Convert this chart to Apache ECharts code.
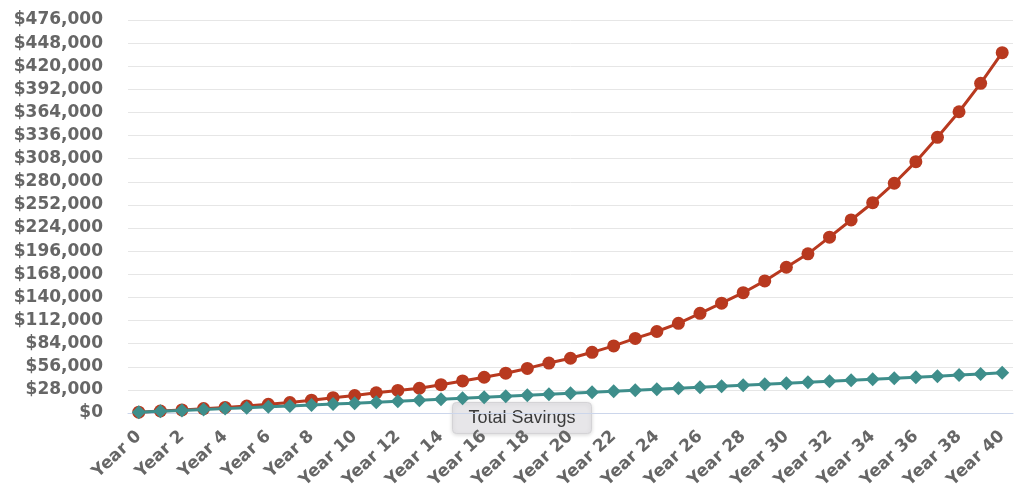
<!DOCTYPE html>
<html>
<head>
<meta charset="utf-8">
<script src="https://cdn.jsdelivr.net/npm/echarts@6/dist/echarts.min.js"></script>
<style>
html,body{margin:0;padding:0;background:#fff;}
#chart{width:1024px;height:500px;}
</style>
</head>
<body>
<div id="chart"></div>
<script>
const categories = [];
for (let i = 0; i <= 40; i++) categories.push('Year ' + i);

const compoundValues = [1000, 2400, 3700, 5300, 6700, 8500, 10600, 12700, 15500, 18600,
  21200, 24500, 27300, 30000, 34300, 38800, 43300, 48200, 54000, 60500,
  66300, 73500, 81300, 90300, 98700, 108600, 120700, 133000, 145700, 160000,
  176500, 192800, 213000, 233800, 254700, 278300, 304400, 333900, 364900, 399300, 436400];

const savingsValues = [1000, 2000, 3100, 4200, 5300, 6400, 7500, 8600, 9700, 10800,
  11900, 13100, 14300, 15500, 16700, 17900, 19100, 20300, 21500, 22700,
  23900, 25100, 26300, 27500, 28700, 29900, 31100, 32300, 33500, 34800,
  36000, 37200, 38400, 39600, 40800, 42000, 43300, 44600, 45900, 47300, 48700];

const yMin = 0, yMax = 476000, yStep = 28000;
const tooltipText = 'Total Savings';

const chart = echarts.init(document.getElementById('chart'), null, {renderer: 'canvas'});
chart.setOption({
  animation: false,
  grid: {left: 128, right: 11, top: 20, bottom: 87},
  xAxis: {
    type: 'category',
    data: categories,
    boundaryGap: true,
    axisLine: {lineStyle: {color: '#ccd6eb', width: 1}},
    axisTick: {alignWithLabel: true, interval: 1, length: 15, lineStyle: {color: '#ccd6eb'}},
    axisLabel: {
      interval: 1, rotate: 43, margin: 21,
      color: '#666', fontSize: 17, fontWeight: 'bold', fontFamily: 'DejaVu Sans'
    },
    splitLine: {show: false}
  },
  yAxis: {
    type: 'value',
    min: yMin, max: yMax, interval: yStep,
    axisLine: {show: false},
    axisTick: {show: false},
    axisLabel: {
      margin: 25, color: '#666', fontSize: 17, fontWeight: 'bold', fontFamily: 'DejaVu Sans',
      padding: [5, 0, 0, 0],
      formatter: v => '$' + v.toLocaleString('en-US')
    },
    splitLine: {lineStyle: {color: '#e6e6e6', width: 1}}
  },
  series: [
    {
      name: 'Compound',
      type: 'line',
      data: compoundValues,
      symbol: 'circle', symbolSize: 13,
      lineStyle: {color: '#b8391f', width: 3},
      itemStyle: {color: '#b8391f'},
      z: 2
    },
    {
      name: 'Total Savings',
      type: 'line',
      data: savingsValues,
      symbol: 'diamond', symbolSize: 14,
      lineStyle: {color: '#3e8e8b', width: 3},
      itemStyle: {color: '#3e8e8b'},
      z: 3
    }
  ],
  graphic: [
    {
      type: 'group', left: 452, top: 402, z: 100,
      children: [
        {type: 'rect', shape: {x: 0, y: 0, width: 139, height: 31, r: 4},
         style: {fill: '#e7e6e9', stroke: '#d4d3d6', lineWidth: 1,
                 shadowBlur: 4, shadowColor: 'rgba(0,0,0,0.15)', shadowOffsetY: 1}},
        {type: 'text', x: 69.5, y: 15.5,
         style: {text: tooltipText, fill: '#3a3a3a', fontSize: 18, fontFamily: 'Liberation Sans',
                 align: 'center', verticalAlign: 'middle'}}
      ]
    }
  ]
});
</script>
</body>
</html>
